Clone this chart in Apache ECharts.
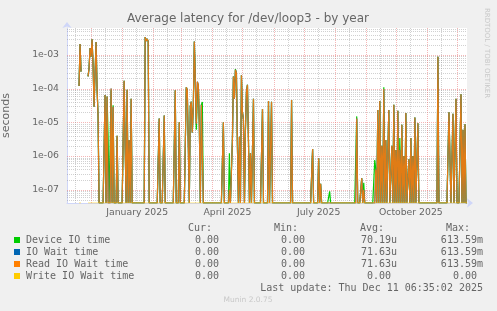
<!DOCTYPE html>
<html>
<head>
<meta charset="utf-8">
<title>Average latency for /dev/loop3 - by year</title>
<script src="https://cdn.jsdelivr.net/npm/echarts@6/dist/echarts.min.js"></script>
<style>
html, body { margin: 0; padding: 0; background: #f0f0f0; }
#chart { width: 497px; height: 311px; }
</style>
</head>
<body>
<div id="chart"></div>
<script>
// range shown by the year graph
var startDay = '2024-11-07';
var endDay = '2025-12-11';
// days without any data (unknown)
var noDataRanges = [['2024-11-07', '2024-11-18'], ['2024-11-22', '2024-11-27']];

// days with a non zero latency, everything else is 0
var spikeDays = [
    '2024-11-19', '2024-11-20', '2024-11-21', '2024-11-28', '2024-11-29', '2024-11-30',
    '2024-12-01', '2024-12-02', '2024-12-03', '2024-12-04', '2024-12-05', '2024-12-06',
    '2024-12-07', '2024-12-08', '2024-12-15', '2024-12-17', '2024-12-18', '2024-12-21',
    '2024-12-23', '2024-12-27', '2025-01-03', '2025-01-04', '2025-01-06', '2025-01-08',
    '2025-01-10', '2025-01-24', '2025-01-25', '2025-01-26', '2025-01-27', '2025-02-07',
    '2025-02-12', '2025-02-23', '2025-02-27', '2025-03-06', '2025-03-07', '2025-03-08',
    '2025-03-10', '2025-03-11', '2025-03-12', '2025-03-13', '2025-03-14', '2025-03-15',
    '2025-03-16', '2025-03-17', '2025-03-18', '2025-03-19', '2025-03-21', '2025-03-22',
    '2025-04-12', '2025-04-18', '2025-04-21', '2025-04-22', '2025-04-23', '2025-04-24',
    '2025-04-25', '2025-04-26', '2025-04-28', '2025-04-30', '2025-05-01', '2025-05-02',
    '2025-05-04', '2025-05-05', '2025-05-06', '2025-05-07', '2025-05-09', '2025-05-12',
    '2025-05-21', '2025-05-27', '2025-05-30', '2025-06-19', '2025-07-10', '2025-07-16',
    '2025-07-18', '2025-07-27', '2025-08-23', '2025-08-28', '2025-08-30', '2025-09-10',
    '2025-09-11', '2025-09-13', '2025-09-15', '2025-09-17', '2025-09-19', '2025-09-21',
    '2025-09-24', '2025-09-27', '2025-09-29', '2025-10-01', '2025-10-03', '2025-10-05',
    '2025-10-07', '2025-10-09', '2025-10-11', '2025-10-14', '2025-10-16', '2025-10-18',
    '2025-10-20', '2025-10-23', '2025-11-12', '2025-11-23', '2025-11-24', '2025-11-27',
    '2025-11-30', '2025-12-05', '2025-12-07', '2025-12-09'
];
// Read IO Wait time (= IO Wait time, writes are all 0)
var readValues = [
    1.2e-4, 2.1e-3, 3.2e-4, 2.3e-4, 4e-4, 1.6e-3,
    8.9e-4, 2.9e-3, 5e-4, 2.9e-5, 3e-4, 2.4e-3,
    1e-4, 1.5e-5, 6.5e-5, 5.8e-5, 0, 1e-4,
    2.9e-5, 4e-6, 1.7e-4, 2e-6, 9.2e-5, 3e-6,
    5e-5, 3.4e-3, 2.6e-3, 3e-3, 2.5e-3, 1.3e-5,
    1.6e-5, 9e-5, 1e-5, 1.1e-4, 9e-5, 2e-6,
    3e-5, 4.1e-5, 5e-6, 3e-5, 2.5e-3, 1.8e-4,
    9e-6, 1.6e-4, 1.3e-4, 8e-6, 3.3e-5, 3.5e-5,
    1e-5, 1e-7, 3e-6, 2.3e-4, 5e-5, 3.6e-4,
    2.9e-4, 2e-6, 3.7e-6, 2.5e-4, 2e-5, 1.2e-5,
    6e-6, 8e-5, 1.3e-4, 3e-6, 1.2e-6, 5e-5,
    2.5e-5, 4.3e-5, 4.1e-5, 4.6e-5, 1.6e-6, 8.6e-7,
    1.5e-7, 0, 1.3e-5, 2.2e-7, 1e-7, 0,
    4e-7, 2.3e-5, 4.3e-5, 2e-6, 9.8e-5, 3e-6,
    2.3e-5, 2e-6, 3.3e-5, 1.5e-6, 2.2e-5, 1.5e-6,
    8.4e-6, 1e-6, 1.9e-5, 8e-7, 3.4e-6, 1e-6,
    1.4e-5, 9.3e-6, 8.9e-4, 2e-5, 1.8e-5, 1.8e-5,
    5e-5, 6.8e-5, 6e-6, 8.8e-6
];
// Device IO time
var deviceValues = [
    1.2e-4, 2.1e-3, 3.2e-4, 2.3e-4, 4e-4, 1.6e-3,
    8.9e-4, 2.9e-3, 5e-4, 2.9e-5, 3e-4, 2.4e-3,
    1e-4, 1.5e-5, 6.5e-5, 5.8e-5, 3.7e-6, 9e-5,
    3.2e-5, 4e-6, 1.7e-4, 2e-6, 9.2e-5, 3e-6,
    5e-5, 3.4e-3, 2.6e-3, 3e-3, 2.5e-3, 1.3e-5,
    1.6e-5, 9e-5, 1e-5, 1.1e-4, 9e-5, 2e-6,
    3e-5, 4.1e-5, 5e-6, 3e-5, 2.5e-3, 1.8e-4,
    6e-6, 6e-5, 1.3e-4, 8e-6, 3.3e-5, 4e-5,
    1e-5, 1.2e-6, 3e-6, 2.3e-4, 5e-5, 3.8e-4,
    2.9e-4, 2e-6, 3.7e-6, 2.5e-4, 2e-5, 1.2e-5,
    6e-6, 8e-5, 1.3e-4, 3e-6, 1.2e-6, 5e-5,
    2.5e-5, 4.3e-5, 4.1e-5, 4.6e-5, 1.6e-6, 8.6e-7,
    1.5e-7, 9e-8, 1.5e-5, 2.2e-7, 1.6e-7, 7.6e-7,
    4e-7, 2.3e-5, 4.3e-5, 2e-6, 1.1e-4, 3e-6,
    2.3e-5, 2e-6, 3.3e-5, 1.5e-6, 2.2e-5, 3.4e-6,
    8.4e-6, 1e-6, 1.9e-5, 8e-7, 3.4e-6, 1e-6,
    1.4e-5, 9.3e-6, 8.9e-4, 2e-5, 1.8e-5, 1.8e-5,
    5e-5, 6.8e-5, 6e-6, 8.8e-6
];

// legend table
var seriesNames = ['Device IO time', 'IO Wait time', 'Read IO Wait time', 'Write IO Wait time'];
var seriesColors = ['#00cc00', '#0066b3', '#ff8000', '#ffcc00'];
var curVals = ['0.00 ', '0.00 ', '0.00 ', '0.00 '];
var minVals = ['0.00 ', '0.00 ', '0.00 ', '0.00 '];
var avgVals = ['70.19u', '71.63u', '71.63u', '0.00 '];
var maxVals = ['613.59m', '613.59m', '613.59m', '0.00 '];

// axis
var yMin = 4.03e-8;
var yMax = 6.3e-3;
var majorTicks = [1e-7, 1e-6, 1e-5, 1e-4, 1e-3];
var monthStarts = ['2024-12-01', '2025-01-01', '2025-02-01', '2025-03-01', '2025-04-01', '2025-05-01',
    '2025-06-01', '2025-07-01', '2025-08-01', '2025-09-01', '2025-10-01', '2025-11-01', '2025-12-01'];
var midMonths = ['2024-11-15', '2024-12-15', '2025-01-15', '2025-02-15', '2025-03-15', '2025-04-15',
    '2025-05-15', '2025-06-15', '2025-07-15', '2025-08-15', '2025-09-15', '2025-10-15', '2025-11-15'];
var monthLabelDays = ['2025-01-16', '2025-04-16', '2025-07-16', '2025-10-16'];
var monthLabels = ['January 2025', 'April 2025', 'July 2025', 'October 2025'];

var FONT = '"DejaVu Sans", sans-serif';
var MONO = '"DejaVu Sans Mono", monospace';
var TXT = '#666666';
var MINOR = 'rgba(140,140,140,0.4)';
var MAJOR = 'rgba(235,110,110,0.5)';

// build daily series
var DAY = 86400000;
var dayList = [];
for (var t = Date.parse(startDay); t <= Date.parse(endDay); t += DAY) {
    dayList.push(new Date(t).toISOString().slice(0, 10));
}
function isMissing(day) {
    for (var i = 0; i < noDataRanges.length; i++) {
        if (day >= noDataRanges[i][0] && day <= noDataRanges[i][1]) return true;
    }
    return false;
}
function buildSeries(values) {
    var byDay = {};
    spikeDays.forEach(function(d, i) { byDay[d] = values ? values[i] : 0; });
    return dayList.map(function(d) {
        if (isMissing(d)) return [d, null];
        var v = byDay[d] !== undefined ? byDay[d] : 0;
        // rrdtool clamps 0 to the bottom of a log graph
        return [d, v > 0 ? v : yMin];
    });
}

function fmtExp(v) {
    var l = Math.log10(v), e = Math.round(l);
    if (Math.abs(l - e) > 0.01) return '';
    var a = Math.abs(e);
    return '1e' + (e < 0 ? '-' : '+') + (a < 10 ? '0' : '') + a;
}

// grid line positions: [x, y, isMajor]
var hGrid = [];
for (var k = -8; k <= -3; k++) {
    for (var m = 2; m <= 9; m++) {
        var v = m * Math.pow(10, k);
        if (v > yMin && v < yMax) hGrid.push([startDay, v, 0]);
    }
}
majorTicks.forEach(function(v) { hGrid.push([startDay, v, 1]); });
var vGrid = midMonths.map(function(d) { return [d, yMin, 0]; })
    .concat(monthStarts.map(function(d) { return [d, yMin, 1]; }));

function gridItem(horizontal) {
    return function(params, api) {
        var cs = params.coordSys;
        var p = api.coord([api.value(0), api.value(1)]);
        var major = api.value(2) === 1;
        var shape;
        if (horizontal) {
            var y = Math.round(p[1]) + 0.5;
            shape = { x1: cs.x, y1: y, x2: cs.x + cs.width, y2: y };
        } else {
            var x = Math.round(p[0]) + 0.5;
            shape = { x1: x, y1: cs.y, x2: x, y2: cs.y + cs.height };
        }
        return {
            type: 'line', shape: shape, silent: true,
            style: { stroke: major ? MAJOR : MINOR, lineWidth: 1, lineDash: [1, 1] }
        };
    };
}

// legend / stats graphics
var graphics = [
    { type: 'text', x: 248, y: 19, style: { text: 'Average latency for /dev/loop3 - by year', font: '12px ' + FONT, fill: TXT, align: 'center', verticalAlign: 'middle' } },
    { type: 'text', x: 487, y: 53, rotation: -Math.PI / 2, style: { text: 'RRDTOOL / TOBI OETIKER', font: '7px ' + FONT, fill: '#c8c8c8', align: 'center', verticalAlign: 'middle' } },
    { type: 'text', x: 483, y: 288, style: { text: 'Last update: Thu Dec 11 06:35:02 2025', font: '10px ' + MONO, fill: TXT, align: 'right', verticalAlign: 'middle' } },
    { type: 'text', x: 248, y: 300, style: { text: 'Munin 2.0.75', font: '7.5px ' + FONT, fill: '#c8c8c8', align: 'center', verticalAlign: 'middle' } }
];
var headers = ['Cur:', 'Min:', 'Avg:', 'Max:'];
var headerX = [212, 298, 384, 470];
headers.forEach(function(h, i) {
    graphics.push({ type: 'text', x: headerX[i], y: 228, style: { text: h, font: '10px ' + MONO, fill: TXT, align: 'right', verticalAlign: 'middle' } });
});
var colX = [225, 311, 397, 483];
seriesNames.forEach(function(name, i) {
    var y = 240 + i * 12;
    graphics.push({ type: 'rect', shape: { x: 14, y: y - 3, width: 6, height: 6 }, style: { fill: seriesColors[i] } });
    graphics.push({ type: 'text', x: 26, y: y, style: { text: name, font: '10px ' + MONO, fill: TXT, align: 'left', verticalAlign: 'middle' } });
    [curVals[i], minVals[i], avgVals[i], maxVals[i]].forEach(function(s, j) {
        graphics.push({ type: 'text', x: colX[j], y: y, style: { text: s, font: '10px ' + MONO, fill: TXT, align: 'right', verticalAlign: 'middle' } });
    });
});

var readData = buildSeries(readValues);

var chart = echarts.init(document.getElementById('chart'), null, { renderer: 'canvas' });
chart.setOption({
    backgroundColor: '#f0f0f0',
    animation: false,
    grid: {
        left: 67, right: 30, top: 28, bottom: 108,
        containLabel: false, outerBoundsMode: 'none',
        show: true, backgroundColor: '#ffffff', borderWidth: 0
    },
    xAxis: {
        type: 'time',
        min: startDay,
        max: endDay,
        axisLine: { show: true, lineStyle: { color: '#cfd6f8' }, symbol: ['none', 'arrow'], symbolSize: [7, 6], symbolOffset: [0, 6] },
        axisTick: { show: false },
        axisLabel: { show: false },
        splitLine: { show: false }
    },
    yAxis: {
        type: 'log',
        logBase: 10,
        min: yMin,
        max: yMax,
        name: 'seconds',
        nameLocation: 'middle',
        nameRotate: 90,
        nameGap: 55,
        nameTextStyle: { color: TXT, fontSize: 11, fontFamily: FONT },
        axisLine: { show: true, lineStyle: { color: '#cfd6f8' }, symbol: ['none', 'arrow'], symbolSize: [7, 6], symbolOffset: [0, 6] },
        axisTick: { show: false },
        splitLine: { show: false },
        minorSplitLine: { show: false },
        axisLabel: { color: TXT, fontSize: 9.3, fontFamily: FONT, margin: 8, showMinLabel: false, showMaxLabel: false, formatter: fmtExp }
    },
    graphic: graphics,
    series: [
        { type: 'custom', silent: true, z: 1, data: hGrid, renderItem: gridItem(true) },
        { type: 'custom', silent: true, z: 1, data: vGrid, renderItem: gridItem(false) },
        {
            name: seriesNames[0], type: 'line', z: 2, showSymbol: false, connectNulls: false,
            lineStyle: { color: seriesColors[0], width: 1.2 }, itemStyle: { color: seriesColors[0] },
            data: buildSeries(deviceValues)
        },
        {
            name: seriesNames[1], type: 'line', z: 3, showSymbol: false,
            lineStyle: { color: seriesColors[1], width: 1.2 }, itemStyle: { color: seriesColors[1] },
            data: readData
        },
        {
            name: seriesNames[2], type: 'line', z: 4, showSymbol: false,
            lineStyle: { color: seriesColors[2], width: 1.2, opacity: 0.88 }, itemStyle: { color: seriesColors[2] },
            data: readData
        },
        {
            name: seriesNames[3], type: 'line', z: 5, showSymbol: false,
            lineStyle: { color: seriesColors[3], width: 1, opacity: 0.6 }, itemStyle: { color: seriesColors[3] },
            data: buildSeries(null)
        },
        {
            type: 'custom', silent: true, clip: false, z: 6,
            data: monthLabelDays.map(function(d) { return [d, yMin]; }),
            renderItem: function(params, api) {
                var p = api.coord([api.value(0), api.value(1)]);
                return {
                    type: 'text', x: p[0], y: p[1] + 9.5,
                    style: { text: monthLabels[params.dataIndex], font: '9.3px ' + FONT, fill: TXT, align: 'center', verticalAlign: 'middle' }
                };
            }
        }
    ]
});
</script>
</body>
</html>
